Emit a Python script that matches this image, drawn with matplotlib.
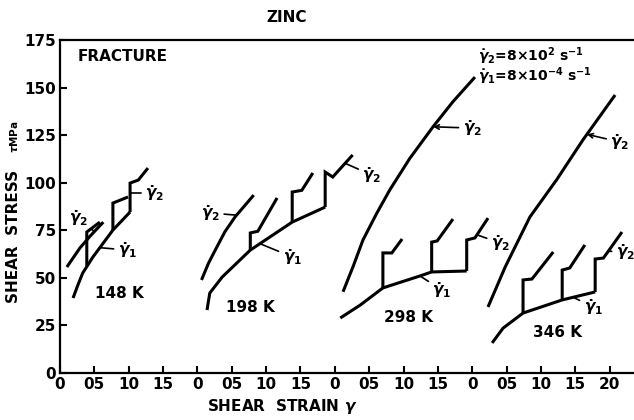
"""
Zinc: shear stress vs shear strain with strain-rate changes at four temperatures.
"""
import matplotlib.pyplot as plt
import numpy as np

plt.rcParams['font.family'] = 'DejaVu Sans'
plt.rcParams['font.weight'] = 'bold'
plt.rcParams['mathtext.fontset'] = 'dejavusans'

# each temperature gets its own strain origin along one axis
temperatures = ['148 K', '198 K', '298 K', '346 K']
panel_origin = [0, 2, 4, 6]
panel_ticks = [[0, 0.5, 1.0, 1.5], [0, 0.5, 1.0, 1.5],
               [0, 0.5, 1.0, 1.5], [0, 0.5, 1.0, 1.5, 2.0]]
tick_text = {0: '0', 0.5: '05', 1.0: '10', 1.5: '15', 2.0: '20'}
stress_ticks = [0, 25, 50, 75, 100, 125, 150, 175]

# fast rate curves (gamma dot 2)
fast_strain = [[0.10, 0.29, 0.44, 0.63],
               [0.06, 0.16, 0.26, 0.40, 0.55, 0.82],
               [0.12, 0.27, 0.41, 0.61, 0.80, 1.09, 1.43, 1.72, 2.04],
               [0.23, 0.48, 0.84, 1.23, 1.61, 2.08]]
fast_stress = [[55.7, 65.7, 72.0, 79.3],
               [48.9, 57.6, 64.6, 74.2, 82.1, 93.5],
               [42.7, 56.3, 69.9, 83.9, 96.2, 112.7, 129.4, 142.6, 155.5],
               [34.7, 55.7, 82.0, 101.6, 122.4, 146.1]]

# slow rate curves (gamma dot 1)
slow_strain = [[0.19, 0.26, 0.33, 0.48, 0.77, 1.02],
               [0.14, 0.18, 0.36, 0.77, 1.38, 1.86],
               [0.08, 0.37, 0.70, 1.24, 1.41, 1.92],
               [0.29, 0.45, 0.74, 1.31, 1.79]]
slow_stress = [[39.4, 46.2, 52.5, 61.0, 75.1, 84.6],
               [33.1, 42.0, 50.4, 64.6, 79.3, 87.2],
               [28.9, 35.7, 44.7, 51.0, 53.1, 53.6],
               [15.8, 23.6, 31.5, 38.4, 42.6]]

# rate-change excursions branching off the slow curves
jump_strain = [[[0.39, 0.39, 0.58], [0.77, 0.77, 0.99], [1.02, 1.02, 1.14, 1.28]],
               [[0.77, 0.77, 0.88, 1.16], [1.38, 1.38, 1.52, 1.68], [1.86, 1.86, 1.97, 2.26]],
               [[0.70, 0.70, 0.83, 0.98], [1.41, 1.41, 1.49, 1.72], [1.92, 1.92, 2.04, 2.23]],
               [[0.74, 0.74, 0.87, 1.18], [1.31, 1.31, 1.42, 1.64], [1.79, 1.79, 1.91, 2.18]]]
jump_stress = [[[56.0, 74.1, 79.3], [75.1, 89.3, 92.5], [84.6, 99.8, 101.4, 107.7]],
               [[64.6, 73.6, 74.5, 92.0], [79.3, 95.1, 96.0, 105.1], [87.2, 105.6, 103.0, 114.6]],
               [[44.7, 63.1, 63.1, 70.4], [53.1, 68.8, 69.4, 80.9], [53.6, 69.9, 71.0, 81.4]],
               [[31.5, 48.9, 49.4, 63.6], [38.4, 54.1, 55.2, 67.3], [42.6, 59.9, 60.4, 74.1]]]

G1 = r'$\dot{\gamma}_1$'
G2 = r'$\dot{\gamma}_2$'

fig = plt.figure(figsize=(6.34, 4.2), dpi=100)
ax = fig.add_axes([60 / 634, 47 / 420, 574 / 634, 333 / 420])
ax.set_xlim(0, 574 / 68.7)
ax.set_ylim(0, 175)

lw = 2.2
for i in range(4):
    x0 = panel_origin[i]
    ax.plot(np.add(fast_strain[i], x0), fast_stress[i], color='black', lw=lw,
            solid_capstyle='butt')
    ax.plot(np.add(slow_strain[i], x0), slow_stress[i], color='black', lw=lw,
            solid_capstyle='butt')
    for js, jt in zip(jump_strain[i], jump_stress[i]):
        ax.plot(np.add(js, x0), jt, color='black', lw=lw, solid_joinstyle='miter',
                solid_capstyle='butt')


def label(txt, panel, text_xy, target_xy, arrow='-'):
    x0 = panel_origin[panel]
    ax.annotate(txt, xy=(target_xy[0] + x0, target_xy[1]),
                xytext=(text_xy[0] + x0, text_xy[1]),
                ha='center', va='center', fontsize=11,
                arrowprops=dict(arrowstyle=arrow, color='black', lw=1.2,
                                shrinkA=1, shrinkB=0, mutation_scale=8))


def on_curve(strain, stress, s):
    return (s, float(np.interp(s, strain, stress)))


# 148 K
label(G2, 0, (0.27, 81.5), on_curve(fast_strain[0], fast_stress[0], 0.50))
label(G1, 0, (0.98, 64.6), on_curve(slow_strain[0], slow_stress[0], 0.58))
label(G2, 0, (1.38, 94.6), (1.02, 94.6))
# 198 K
label(G2, 1, (0.19, 84.1), on_curve(fast_strain[1], fast_stress[1], 0.57))
label(G1, 1, (1.38, 61.0), on_curve(slow_strain[1], slow_stress[1], 0.91))
label(G2, 1, (2.54, 104.0), (2.15, 110.2))
# 298 K
label(G2, 2, (2.00, 128.7), on_curve(fast_strain[2], fast_stress[2], 1.43), '->')
label(G1, 2, (1.56, 43.6), on_curve(slow_strain[2], slow_stress[2], 1.24))
label(G2, 2, (2.41, 68.3), (2.07, 72.6))
# 346 K
label(G2, 3, (2.15, 121.4), on_curve(fast_strain[3], fast_stress[3], 1.67), '->')
label(G1, 3, (1.76, 34.7), on_curve(slow_strain[3], slow_stress[3], 1.47))
label(G2, 3, (2.23, 63.6), (1.98, 64.0))

temp_pos = [(0.87, 42.0), (0.77, 34.2), (1.07, 29.4), (1.24, 21.5)]
for i, t in enumerate(temperatures):
    ax.text(panel_origin[i] + temp_pos[i][0], temp_pos[i][1], t,
            ha='center', va='center', fontsize=11)

# axes styling
xt, xl = [], []
for i in range(4):
    for t in panel_ticks[i]:
        xt.append(panel_origin[i] + t)
        xl.append(tick_text[t])
ax.set_xticks(xt)
ax.set_xticklabels(xl)
ax.set_yticks(stress_ticks)
ax.tick_params(direction='in', length=5, width=1.5, labelsize=11, pad=3)
ax.spines['right'].set_visible(False)
for s in ['left', 'bottom', 'top']:
    ax.spines[s].set_linewidth(1.6)

ax.text(0.03, 0.95, 'FRACTURE', transform=ax.transAxes, ha='left', va='center',
        fontsize=11)
ax.text(0.728, 0.95, r'$\dot{\gamma}_2$=8$\times$10$^2$ s$^{-1}$', transform=ax.transAxes,
        ha='left', va='center', fontsize=10)
ax.text(0.728, 0.89, r'$\dot{\gamma}_1$=8$\times$10$^{-4}$ s$^{-1}$', transform=ax.transAxes,
        ha='left', va='center', fontsize=10)

fig.text(287 / 634, 1 - 18 / 420, 'ZINC', ha='center', va='center', fontsize=11)
fig.text(282 / 634, 1 - 407 / 420, r'SHEAR  STRAIN $\gamma$', ha='center', va='center',
         fontsize=11)
fig.text(14 / 634, 1 - 236 / 420, 'SHEAR  STRESS', rotation=90, ha='center',
         va='center', fontsize=11)
fig.text(14 / 634, 1 - 137 / 420, r'$\tau$MPa', rotation=90, ha='center',
         va='center', fontsize=7.5)

fig.savefig('out.png', dpi=100, facecolor='white')
